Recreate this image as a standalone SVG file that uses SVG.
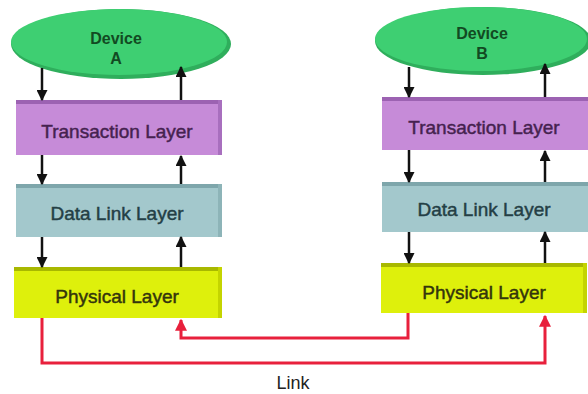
<svg xmlns="http://www.w3.org/2000/svg" width="588" height="394" viewBox="0 0 588 394">
<defs>
<style>
.lbl{font-family:"Liberation Sans",Arial,sans-serif;font-size:19px;text-anchor:middle;stroke-width:0.45}
.dev{font-family:"Liberation Sans",Arial,sans-serif;font-size:16px;font-weight:bold;fill:#124a22;text-anchor:middle}
.blk{stroke:#111;stroke-width:2.5;fill:none}
.red{stroke:#e8203c;stroke-width:3;fill:none}
</style>
<marker id="ah" viewBox="0 0 10 10" refX="9" refY="5" markerWidth="4.4" markerHeight="4.4" orient="auto" markerUnits="strokeWidth"><path d="M0,0L10,5L0,10z" fill="#111"/></marker>
<marker id="rh" viewBox="0 0 10 10" refX="9" refY="5" markerWidth="4" markerHeight="4" orient="auto" markerUnits="strokeWidth"><path d="M0,0L10,5L0,10z" fill="#e8203c"/></marker>
</defs>
<rect width="588" height="394" fill="#fff"/>

<g id="deviceA">
<ellipse cx="121" cy="44" rx="110" ry="35" fill="#2fae5c"/>
<ellipse cx="119" cy="42" rx="108" ry="33" fill="#3ecf72"/>
<text class="dev" x="116" y="44">Device</text>
<text class="dev" x="116" y="64">A</text>
</g>
<g id="transA">
<rect x="16" y="100" width="206" height="55" fill="#c68bd8"/>
<rect x="16" y="100" width="206" height="4" fill="#9c62b2"/>
<rect x="218" y="100" width="4" height="55" fill="#a86fbe"/>
<text class="lbl" x="117" y="138" fill="#45224f" stroke="#45224f">Transaction Layer</text>
</g>
<g id="dlA">
<rect x="16" y="184" width="206" height="53" fill="#a3c8cc"/>
<rect x="16" y="184" width="206" height="4" fill="#7ea6ab"/>
<rect x="218" y="184" width="4" height="53" fill="#8db4b8"/>
<text class="lbl" x="117" y="220" fill="#243f45" stroke="#243f45">Data Link Layer</text>
</g>
<g id="physA">
<rect x="14" y="267" width="208" height="51" fill="#def00c"/>
<rect x="14" y="267" width="208" height="4" fill="#a8b800"/>
<rect x="218" y="267" width="4" height="51" fill="#c4d400"/>
<text class="lbl" x="117" y="303" fill="#33350c" stroke="#33350c">Physical Layer</text>
</g>

<g id="deviceB">
<ellipse cx="483" cy="41" rx="108" ry="34" fill="#2fae5c"/>
<ellipse cx="481" cy="39" rx="106" ry="32" fill="#3ecf72"/>
<text class="dev" x="482" y="39">Device</text>
<text class="dev" x="482" y="59">B</text>
</g>
<g id="transB">
<rect x="382" y="97" width="206" height="53" fill="#c68bd8"/>
<rect x="382" y="97" width="206" height="4" fill="#9c62b2"/>
<text class="lbl" x="484" y="134" fill="#45224f" stroke="#45224f">Transaction Layer</text>
</g>
<g id="dlB">
<rect x="382" y="182" width="206" height="50" fill="#a3c8cc"/>
<rect x="382" y="182" width="206" height="4" fill="#7ea6ab"/>
<text class="lbl" x="484" y="216" fill="#243f45" stroke="#243f45">Data Link Layer</text>
</g>
<g id="physB">
<rect x="381" y="263" width="206" height="50" fill="#def00c"/>
<rect x="381" y="263" width="206" height="4" fill="#a8b800"/>
<rect x="583" y="263" width="4" height="50" fill="#c4d400"/>
<text class="lbl" x="484" y="299" fill="#33350c" stroke="#33350c">Physical Layer</text>
</g>

<g id="connectors">
<line class="blk" x1="42" y1="68" x2="42" y2="100" marker-end="url(#ah)"/>
<line class="blk" x1="181" y1="100" x2="181" y2="67" marker-end="url(#ah)"/>
<line class="blk" x1="42" y1="155" x2="42" y2="184" marker-end="url(#ah)"/>
<line class="blk" x1="181" y1="184" x2="181" y2="156" marker-end="url(#ah)"/>
<line class="blk" x1="42" y1="237" x2="42" y2="267" marker-end="url(#ah)"/>
<line class="blk" x1="181" y1="267" x2="181" y2="237" marker-end="url(#ah)"/>

<line class="blk" x1="409" y1="67" x2="409" y2="97" marker-end="url(#ah)"/>
<line class="blk" x1="545" y1="97" x2="545" y2="64" marker-end="url(#ah)"/>
<line class="blk" x1="409" y1="150" x2="409" y2="182" marker-end="url(#ah)"/>
<line class="blk" x1="545" y1="182" x2="545" y2="151" marker-end="url(#ah)"/>
<line class="blk" x1="409" y1="232" x2="409" y2="263" marker-end="url(#ah)"/>
<line class="blk" x1="545" y1="263" x2="545" y2="232" marker-end="url(#ah)"/>

<polyline class="red" points="42,318 42,363 545,363 545,316" marker-end="url(#rh)"/>
<polyline class="red" points="408,313 408,338 181,338 181,320" marker-end="url(#rh)"/>
<text x="293" y="389" style="font-family:'Liberation Sans',Arial,sans-serif;font-size:18px;fill:#222;text-anchor:middle">Link</text>
</g>
</svg>
